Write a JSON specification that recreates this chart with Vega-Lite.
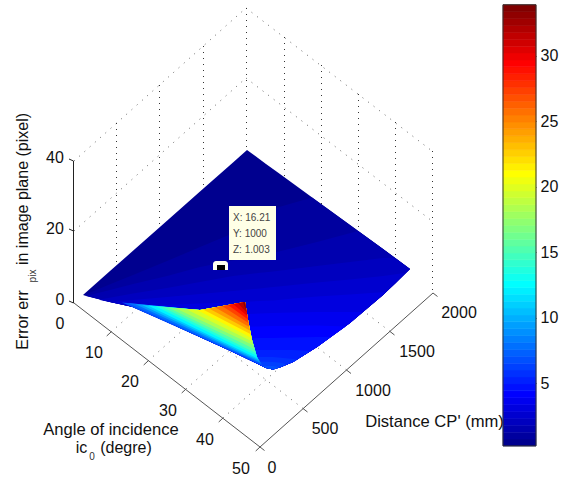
{"$schema":"https://vega.github.io/schema/vega-lite/v6.json","width":571,"height":480,"padding":0,"autosize":"none","background":"white","config":{"view":{"stroke":null},"text":{"font":"Liberation Sans"},"axis":{"labelFont":"Liberation Sans"}},
"datasets":{
"diag":[{"u":74,"v":161,"u2":246,"v2":8},{"u":74,"v":231,"u2":246,"v2":78},{"u":246,"v":8,"u2":432,"v2":151},{"u":246,"v":78,"u2":432,"v2":221},{"u":111,"v":332,"u2":284,"v2":178},{"u":148,"v":361,"u2":321,"v2":207},{"u":186,"v":389,"u2":359,"v2":235},{"u":223,"v":418,"u2":396,"v2":264},{"u":303,"v":408.5,"u2":117,"v2":264.5},{"u":346.5,"v":370,"u2":160.5,"v2":226},{"u":390,"v":331.5,"u2":204,"v2":187.5}],
"vert":[{"u":116.5,"v":123,"u2":116.5,"v2":266},{"u":159.5,"v":85,"u2":159.5,"v2":227},{"u":203.5,"v":46,"u2":203.5,"v2":188},{"u":246.5,"v":8,"u2":246.5,"v2":149},{"u":284.5,"v":37,"u2":284.5,"v2":178},{"u":321.5,"v":65,"u2":321.5,"v2":207},{"u":358.5,"v":94,"u2":358.5,"v2":235},{"u":395.5,"v":122,"u2":395.5,"v2":264},{"u":432.5,"v":151,"u2":432.5,"v2":293}],
"frame":[{"u":74,"v":303,"u2":260,"v2":447},{"u":260,"v":447,"u2":433,"v2":293},{"u":111,"v":332,"u2":106.7,"v2":336},{"u":148,"v":361,"u2":143.7,"v2":365},{"u":186,"v":389,"u2":181.7,"v2":393},{"u":223,"v":418,"u2":218.7,"v2":422},{"u":260,"v":447,"u2":255.7,"v2":451},{"u":260,"v":447,"u2":264.5,"v2":450.5},{"u":303,"v":408.5,"u2":307.5,"v2":412},{"u":346.5,"v":370,"u2":351,"v2":373.5},{"u":390,"v":331.5,"u2":394.5,"v2":335},{"u":433,"v":293,"u2":437.5,"v2":296.5}],
"zaxis":[{"u":73.5,"v":161,"u2":73.5,"v2":303},{"u":73.5,"v":161,"u2":69,"v2":159},{"u":73.5,"v":231,"u2":69,"v2":229},{"u":73.5,"v":303,"u2":69,"v2":301}],
"surface":[
{"z":0.23,"u":83,"v":295,"v2":295},{"z":0.23,"u":110,"v":271.1,"v2":302},{"z":0.23,"u":133,"v":250.8,"v2":307},{"z":0.23,"u":167,"v":220.7,"v2":322},{"z":0.23,"u":200,"v":191.6,"v2":337},{"z":0.23,"u":233,"v":162.4,"v2":352},{"z":0.23,"u":247,"v":150,"v2":358.7},{"z":0.23,"u":260,"v":159.5,"v2":365},{"z":0.23,"u":266,"v":164,"v2":368},{"z":0.23,"u":273,"v":169,"v2":369.5},{"z":0.23,"u":281,"v":174.8,"v2":367},{"z":0.23,"u":293,"v":183.6,"v2":362},{"z":0.23,"u":317,"v":201,"v2":347},{"z":0.23,"u":350,"v":225,"v2":323},{"z":0.23,"u":383,"v":249,"v2":295},{"z":0.23,"u":398,"v":260,"v2":280},{"z":0.23,"u":410,"v":269,"v2":269},
{"z":0.756,"u":84,"v":295,"v2":295},{"z":0.756,"u":110,"v":284.3,"v2":302},{"z":0.756,"u":133,"v":275,"v2":307},{"z":0.756,"u":167,"v":261,"v2":322},{"z":0.756,"u":200,"v":247,"v2":337},{"z":0.756,"u":233,"v":233.3,"v2":352},{"z":0.756,"u":260,"v":217,"v2":365},{"z":0.756,"u":266,"v":213,"v2":368},{"z":0.756,"u":273,"v":209,"v2":369.5},{"z":0.756,"u":281,"v":206.6,"v2":367},{"z":0.756,"u":293,"v":203,"v2":362},{"z":0.756,"u":312,"v":197.5,"v2":350},{"z":0.756,"u":350,"v":225,"v2":323},{"z":0.756,"u":383,"v":249,"v2":295},{"z":0.756,"u":410,"v":269,"v2":269},
{"z":1.282,"u":86,"v":296,"v2":296},{"z":1.282,"u":110,"v":290,"v2":302},{"z":1.282,"u":133,"v":284,"v2":307},{"z":1.282,"u":167,"v":276,"v2":322},{"z":1.282,"u":200,"v":267,"v2":337},{"z":1.282,"u":233,"v":260.5,"v2":352},{"z":1.282,"u":260,"v":255.5,"v2":365},{"z":1.282,"u":266,"v":254.3,"v2":368},{"z":1.282,"u":273,"v":253,"v2":369.5},{"z":1.282,"u":281,"v":251,"v2":367},{"z":1.282,"u":293,"v":248,"v2":362},{"z":1.282,"u":317,"v":242,"v2":347},{"z":1.282,"u":358,"v":231,"v2":316},{"z":1.282,"u":383,"v":249,"v2":295},{"z":1.282,"u":410,"v":269,"v2":269},
{"z":1.809,"u":100,"v":299.5,"v2":300},{"z":1.809,"u":133,"v":293.5,"v2":307},{"z":1.809,"u":167,"v":288,"v2":322},{"z":1.809,"u":200,"v":282,"v2":337},{"z":1.809,"u":233,"v":276,"v2":352},{"z":1.809,"u":260,"v":272.8,"v2":365},{"z":1.809,"u":266,"v":272.2,"v2":368},{"z":1.809,"u":273,"v":271.5,"v2":369.5},{"z":1.809,"u":281,"v":270.5,"v2":367},{"z":1.809,"u":293,"v":269,"v2":362},{"z":1.809,"u":317,"v":266,"v2":347},{"z":1.809,"u":350,"v":262,"v2":323},{"z":1.809,"u":383,"v":258,"v2":295},{"z":1.809,"u":395,"v":258,"v2":284},{"z":1.809,"u":410,"v":269,"v2":269},
{"z":2.335,"u":112,"v":302,"v2":302},{"z":2.335,"u":133,"v":300,"v2":307},{"z":2.335,"u":167,"v":297,"v2":322},{"z":2.335,"u":200,"v":294,"v2":337},{"z":2.335,"u":233,"v":291,"v2":352},{"z":2.335,"u":260,"v":288.5,"v2":365},{"z":2.335,"u":266,"v":287.8,"v2":368},{"z":2.335,"u":273,"v":287,"v2":369.5},{"z":2.335,"u":281,"v":286.2,"v2":367},{"z":2.335,"u":293,"v":285,"v2":362},{"z":2.335,"u":317,"v":282.5,"v2":347},{"z":2.335,"u":350,"v":279.5,"v2":323},{"z":2.335,"u":383,"v":276,"v2":295},{"z":2.335,"u":405,"v":273,"v2":273},
{"z":2.861,"u":130,"v":306,"v2":306},{"z":2.861,"u":167,"v":305,"v2":322},{"z":2.861,"u":200,"v":303.5,"v2":337},{"z":2.861,"u":233,"v":302.5,"v2":352},{"z":2.861,"u":260,"v":301,"v2":365},{"z":2.861,"u":266,"v":300.8,"v2":368},{"z":2.861,"u":273,"v":300.5,"v2":369.5},{"z":2.861,"u":281,"v":299.8,"v2":367},{"z":2.861,"u":293,"v":298.5,"v2":362},{"z":2.861,"u":317,"v":296.5,"v2":347},{"z":2.861,"u":350,"v":294.5,"v2":323},{"z":2.861,"u":385,"v":292,"v2":293},
{"z":3.387,"u":155,"v":316.5,"v2":316.5},{"z":3.387,"u":200,"v":315.5,"v2":337},{"z":3.387,"u":233,"v":314.5,"v2":352},{"z":3.387,"u":260,"v":313.5,"v2":365},{"z":3.387,"u":266,"v":313.3,"v2":368},{"z":3.387,"u":273,"v":313,"v2":369.5},{"z":3.387,"u":281,"v":312.8,"v2":367},{"z":3.387,"u":293,"v":312.4,"v2":362},{"z":3.387,"u":317,"v":312,"v2":347},{"z":3.387,"u":350,"v":312,"v2":323},{"z":3.387,"u":362,"v":312,"v2":312.5},
{"z":3.913,"u":180,"v":328,"v2":328},{"z":3.913,"u":200,"v":328,"v2":337},{"z":3.913,"u":233,"v":327,"v2":352},{"z":3.913,"u":260,"v":326.5,"v2":365},{"z":3.913,"u":266,"v":326.3,"v2":368},{"z":3.913,"u":273,"v":326,"v2":369.5},{"z":3.913,"u":281,"v":325.9,"v2":367},{"z":3.913,"u":293,"v":325.8,"v2":362},{"z":3.913,"u":317,"v":325.5,"v2":347},{"z":3.913,"u":345,"v":326.5,"v2":327},
{"z":4.439,"u":204,"v":339,"v2":339},{"z":4.439,"u":233,"v":339,"v2":352},{"z":4.439,"u":260,"v":338,"v2":365},{"z":4.439,"u":266,"v":338,"v2":368},{"z":4.439,"u":273,"v":338,"v2":369.5},{"z":4.439,"u":281,"v":337.8,"v2":367},{"z":4.439,"u":293,"v":337.5,"v2":362},{"z":4.439,"u":317,"v":337,"v2":347},{"z":4.439,"u":330,"v":337,"v2":337.5},
{"z":4.966,"u":228,"v":350,"v2":350},{"z":4.966,"u":260,"v":350,"v2":365},{"z":4.966,"u":266,"v":350,"v2":368},{"z":4.966,"u":273,"v":350,"v2":369.5},{"z":4.966,"u":281,"v":350,"v2":367},{"z":4.966,"u":293,"v":350,"v2":362},{"z":4.966,"u":310,"v":351,"v2":351.5},
{"z":5.492,"u":245,"v":357,"v2":358},{"z":5.492,"u":260,"v":357,"v2":365},{"z":5.492,"u":266,"v":357,"v2":368},{"z":5.492,"u":273,"v":357,"v2":369.5},{"z":5.492,"u":281,"v":357.8,"v2":367},{"z":5.492,"u":293,"v":359,"v2":362},{"z":5.492,"u":297,"v":360,"v2":360},
{"z":6.018,"u":254,"v":362,"v2":362},{"z":6.018,"u":260,"v":361.5,"v2":365},{"z":6.018,"u":266,"v":361.7,"v2":368},{"z":6.018,"u":273,"v":362,"v2":369.5},{"z":6.018,"u":281,"v":362.8,"v2":367},{"z":6.018,"u":285,"v":364,"v2":365},
{"z":6.544,"u":262,"v":366,"v2":366},{"z":6.544,"u":266,"v":366,"v2":368},{"z":6.544,"u":273,"v":366,"v2":369.5},{"z":6.544,"u":278,"v":367,"v2":368},
{"z":6.6,"u":122,"v":302.5,"v2":302.5},{"z":6.6,"u":200,"v":310,"v2":337.3},{"z":6.6,"u":245,"v":302,"v2":357.6},{"z":6.6,"u":248,"v":320,"v2":359},{"z":6.6,"u":252,"v":340,"v2":360.8},{"z":6.6,"u":257,"v":357,"v2":363},{"z":6.6,"u":262,"v":365,"v2":365.3},{"z":6.6,"u":263.5,"v":366,"v2":366},
{"z":7.5,"u":128,"v":303,"v2":303},{"z":7.5,"u":200,"v":310,"v2":335.9},{"z":7.5,"u":245,"v":302,"v2":356.5},{"z":7.5,"u":248,"v":320,"v2":357.9},{"z":7.5,"u":252,"v":340,"v2":359.7},{"z":7.5,"u":257,"v":357,"v2":362},{"z":7.5,"u":261.4,"v":364,"v2":364},
{"z":9,"u":135,"v":304,"v2":304},{"z":9,"u":200,"v":310,"v2":334.3},{"z":9,"u":245,"v":302,"v2":355.4},{"z":9,"u":248,"v":320,"v2":356.8},{"z":9,"u":252,"v":340,"v2":358.6},{"z":9,"u":257,"v":357,"v2":360.9},{"z":9,"u":260.3,"v":362.5,"v2":362.5},
{"z":10.5,"u":142,"v":305,"v2":305},{"z":10.5,"u":200,"v":310,"v2":332.5},{"z":10.5,"u":245,"v":302,"v2":354},{"z":10.5,"u":248,"v":320,"v2":355.4},{"z":10.5,"u":252,"v":340,"v2":357.2},{"z":10.5,"u":257,"v":357,"v2":359.6},{"z":10.5,"u":259.3,"v":360.7,"v2":360.7},
{"z":12,"u":148,"v":305.5,"v2":305.5},{"z":12,"u":200,"v":310,"v2":330.7},{"z":12,"u":245,"v":302,"v2":352.4},{"z":12,"u":248,"v":320,"v2":353.9},{"z":12,"u":252,"v":340,"v2":355.8},{"z":12,"u":257,"v":357,"v2":358.2},{"z":12,"u":258.2,"v":358.8,"v2":358.8},
{"z":13.5,"u":155,"v":306,"v2":306},{"z":13.5,"u":200,"v":310,"v2":328},{"z":13.5,"u":245,"v":302,"v2":350.1},{"z":13.5,"u":248,"v":320,"v2":351.6},{"z":13.5,"u":252,"v":340,"v2":353.5},{"z":13.5,"u":256.8,"v":356,"v2":356},
{"z":15,"u":162,"v":307,"v2":307},{"z":15,"u":200,"v":310,"v2":325.6},{"z":15,"u":245,"v":302,"v2":347.7},{"z":15,"u":248,"v":320,"v2":349.2},{"z":15,"u":252,"v":340,"v2":351.1},{"z":15,"u":255.8,"v":353,"v2":353},
{"z":16.5,"u":168,"v":307.5,"v2":307.5},{"z":16.5,"u":200,"v":310,"v2":322.9},{"z":16.5,"u":245,"v":302,"v2":344.5},{"z":16.5,"u":248,"v":320,"v2":346},{"z":16.5,"u":252,"v":340,"v2":347.9},{"z":16.5,"u":254.7,"v":349.2,"v2":349.2},
{"z":18,"u":175,"v":308,"v2":308},{"z":18,"u":200,"v":310,"v2":319.9},{"z":18,"u":245,"v":302,"v2":341.3},{"z":18,"u":248,"v":320,"v2":342.7},{"z":18,"u":252,"v":340,"v2":344.6},{"z":18,"u":253.8,"v":345.5,"v2":345.5},
{"z":19.5,"u":186,"v":309,"v2":309},{"z":19.5,"u":200,"v":310,"v2":315.9},{"z":19.5,"u":245,"v":302,"v2":338},{"z":19.5,"u":248,"v":320,"v2":339.5},{"z":19.5,"u":252,"v":340,"v2":341.5},{"z":19.5,"u":252.7,"v":341.8,"v2":341.8},
{"z":21,"u":197,"v":310,"v2":310},{"z":21,"u":200,"v":310,"v2":311.5},{"z":21,"u":245,"v":302,"v2":334.6},{"z":21,"u":248,"v":320,"v2":336.2},{"z":21,"u":251.6,"v":338,"v2":338},
{"z":22.5,"u":203,"v":309.5,"v2":309.5},{"z":22.5,"u":245,"v":302,"v2":331.3},{"z":22.5,"u":248,"v":320,"v2":332.8},{"z":22.5,"u":250.8,"v":334.3,"v2":334.3},
{"z":24,"u":209,"v":308.4,"v2":308.4},{"z":24,"u":245,"v":302,"v2":327.8},{"z":24,"u":248,"v":320,"v2":329.4},{"z":24,"u":250,"v":330.5,"v2":330.5},
{"z":25.5,"u":215,"v":307.3,"v2":307.3},{"z":25.5,"u":245,"v":302,"v2":324.6},{"z":25.5,"u":248,"v":320,"v2":326.3},{"z":25.5,"u":249.2,"v":327,"v2":327},
{"z":27,"u":222,"v":306,"v2":306},{"z":27,"u":245,"v":302,"v2":320.8},{"z":27,"u":248,"v":320,"v2":322.7},{"z":27,"u":248.5,"v":323,"v2":323},
{"z":28.5,"u":228,"v":305,"v2":305},{"z":28.5,"u":245,"v":302,"v2":317.2},{"z":28.5,"u":247.9,"v":319.3,"v2":319.3},
{"z":30,"u":233,"v":304,"v2":304},{"z":30,"u":245,"v":302,"v2":314},{"z":30,"u":247.4,"v":316,"v2":316},
{"z":31.5,"u":238,"v":303.2,"v2":303.2},{"z":31.5,"u":245,"v":302,"v2":310.8},{"z":31.5,"u":247,"v":313,"v2":313},
{"z":33,"u":243,"v":302.4,"v2":302.4},{"z":33,"u":245,"v":302,"v2":307.5},{"z":33,"u":246,"v":310,"v2":310}
],
"bar":[{"z":0.23,"z2":0.756},{"z":0.756,"z2":1.282},{"z":1.282,"z2":1.809},{"z":1.809,"z2":2.335},{"z":2.335,"z2":2.861},{"z":2.861,"z2":3.387},{"z":3.387,"z2":3.913},{"z":3.913,"z2":4.439},{"z":4.439,"z2":4.966},{"z":4.966,"z2":5.492},{"z":5.492,"z2":6.018},{"z":6.018,"z2":6.544},{"z":6.544,"z2":7.07},{"z":7.07,"z2":7.596},{"z":7.596,"z2":8.123},{"z":8.123,"z2":8.649},{"z":8.649,"z2":9.175},{"z":9.175,"z2":9.701},{"z":9.701,"z2":10.227},{"z":10.227,"z2":10.753},{"z":10.753,"z2":11.28},{"z":11.28,"z2":11.806},{"z":11.806,"z2":12.332},{"z":12.332,"z2":12.858},{"z":12.858,"z2":13.384},{"z":13.384,"z2":13.91},{"z":13.91,"z2":14.437},{"z":14.437,"z2":14.963},{"z":14.963,"z2":15.489},{"z":15.489,"z2":16.015},{"z":16.015,"z2":16.541},{"z":16.541,"z2":17.067},{"z":17.067,"z2":17.594},{"z":17.594,"z2":18.12},{"z":18.12,"z2":18.646},{"z":18.646,"z2":19.172},{"z":19.172,"z2":19.698},{"z":19.698,"z2":20.224},{"z":20.224,"z2":20.751},{"z":20.751,"z2":21.277},{"z":21.277,"z2":21.803},{"z":21.803,"z2":22.329},{"z":22.329,"z2":22.855},{"z":22.855,"z2":23.381},{"z":23.381,"z2":23.908},{"z":23.908,"z2":24.434},{"z":24.434,"z2":24.96},{"z":24.96,"z2":25.486},{"z":25.486,"z2":26.012},{"z":26.012,"z2":26.538},{"z":26.538,"z2":27.065},{"z":27.065,"z2":27.591},{"z":27.591,"z2":28.117},{"z":28.117,"z2":28.643},{"z":28.643,"z2":29.169},{"z":29.169,"z2":29.695},{"z":29.695,"z2":30.222},{"z":30.222,"z2":30.748},{"z":30.748,"z2":31.274},{"z":31.274,"z2":31.8},{"z":31.8,"z2":32.326},{"z":32.326,"z2":32.852},{"z":32.852,"z2":33.379},{"z":33.379,"z2":33.905}]
},
"layer":[
{"layer":[
{"data":{"name":"diag"},"mark":{"type":"rule","stroke":"#666666","strokeWidth":1,"strokeDash":[1,6]},"encoding":{"x":{"field":"u","type":"quantitative","scale":{"domain":[0,571],"nice":false,"zero":false},"axis":null},"y":{"field":"v","type":"quantitative","scale":{"domain":[480,0],"nice":false,"zero":false},"axis":null},"x2":{"field":"u2"},"y2":{"field":"v2"}}},
{"data":{"name":"vert"},"mark":{"type":"rule","stroke":"#333333","strokeWidth":1,"strokeDash":[1,5]},"encoding":{"x":{"field":"u","type":"quantitative"},"y":{"field":"v","type":"quantitative"},"x2":{"field":"u2"},"y2":{"field":"v2"}}},
{"data":{"name":"frame"},"mark":{"type":"rule","stroke":"#555555","strokeWidth":1},"encoding":{"x":{"field":"u","type":"quantitative"},"y":{"field":"v","type":"quantitative"},"x2":{"field":"u2"},"y2":{"field":"v2"}}},
{"data":{"name":"zaxis"},"mark":{"type":"rule","stroke":"#222222","strokeWidth":1},"encoding":{"x":{"field":"u","type":"quantitative"},"y":{"field":"v","type":"quantitative"},"x2":{"field":"u2"},"y2":{"field":"v2"}}},
{"data":{"name":"surface"},"mark":{"type":"area","orient":"vertical","interpolate":"linear","opacity":1},"encoding":{"x":{"field":"u","type":"quantitative"},"y":{"field":"v","type":"quantitative"},"y2":{"field":"v2"},"detail":{"field":"z"},"color":{"field":"z","type":"quantitative","scale":{"domain":[0.23,3.91,12.33,20.75,29.17,33.38],"range":["#00008f","#0000ff","#00ffff","#ffff00","#ff0000","#800000"],"interpolate":"rgb"},"legend":null}}},
{"data":{"values":[{"u":213,"u2":228,"v":261,"v2":270}]},"mark":{"type":"rect","fill":"#fffff0","cornerRadiusTopLeft":3,"cornerRadiusTopRight":3},"encoding":{"x":{"field":"u","type":"quantitative"},"x2":{"field":"u2"},"y":{"field":"v","type":"quantitative"},"y2":{"field":"v2"}}},
{"data":{"values":[{"u":217,"u2":225,"v":265,"v2":270}]},"mark":{"type":"rect","fill":"#000000"},"encoding":{"x":{"field":"u","type":"quantitative"},"x2":{"field":"u2"},"y":{"field":"v","type":"quantitative"},"y2":{"field":"v2"}}},
{"data":{"values":[{"u":229,"u2":276,"v":206,"v2":260}]},"mark":{"type":"rect","fill":"#ffffe6"},"encoding":{"x":{"field":"u","type":"quantitative"},"x2":{"field":"u2"},"y":{"field":"v","type":"quantitative"},"y2":{"field":"v2"}}},
{"data":{"values":[{"u":233,"v":218,"t":"X: 16.21"},{"u":233,"v":234,"t":"Y: 1000"},{"u":233,"v":250,"t":"Z: 1.003"}]},"mark":{"type":"text","align":"left","baseline":"middle","fontSize":10,"fill":"#444444"},"encoding":{"x":{"field":"u","type":"quantitative"},"y":{"field":"v","type":"quantitative"},"text":{"field":"t"}}},
{"data":{"values":[{"u":55,"v":158,"t":"40"},{"u":55,"v":229,"t":"20"},{"u":60,"v":300,"t":"0"},{"u":60,"v":324,"t":"0"},{"u":94,"v":353,"t":"10"},{"u":130,"v":382,"t":"20"},{"u":168,"v":411,"t":"30"},{"u":205,"v":440,"t":"40"},{"u":241,"v":469,"t":"50"},{"u":272,"v":468,"t":"0"},{"u":325,"v":429,"t":"500"},{"u":373,"v":391,"t":"1000"},{"u":417,"v":352,"t":"1500"},{"u":459,"v":313,"t":"2000"},{"u":81.5,"v":448,"t":"ic"},{"u":126,"v":448,"t":"(degre)"}]},"mark":{"type":"text","align":"center","baseline":"middle","fontSize":16,"fill":"#111111"},"encoding":{"x":{"field":"u","type":"quantitative"},"y":{"field":"v","type":"quantitative"},"text":{"field":"t"}}},
{"data":{"values":[{"u":111,"v":430,"t":"Angle of incidence"},{"u":434.5,"v":422,"t":"Distance CP' (mm)"}]},"mark":{"type":"text","align":"center","baseline":"middle","fontSize":16.6,"fill":"#111111"},"encoding":{"x":{"field":"u","type":"quantitative"},"y":{"field":"v","type":"quantitative"},"text":{"field":"t"}}},
{"data":{"values":[{"u":92,"v":457,"t":"0"}]},"mark":{"type":"text","align":"center","baseline":"middle","fontSize":10,"fill":"#333333"},"encoding":{"x":{"field":"u","type":"quantitative"},"y":{"field":"v","type":"quantitative"},"text":{"field":"t"}}},
{"data":{"values":[{"u":23,"v":320,"t":"Error err"},{"u":23,"v":189,"t":"in image plane (pixel)"}]},"mark":{"type":"text","align":"center","baseline":"middle","fontSize":16,"angle":270,"fill":"#111111"},"encoding":{"x":{"field":"u","type":"quantitative"},"y":{"field":"v","type":"quantitative"},"text":{"field":"t"}}},
{"data":{"values":[{"u":33,"v":276,"t":"pix"}]},"mark":{"type":"text","align":"center","baseline":"middle","fontSize":10,"angle":270,"fill":"#333333"},"encoding":{"x":{"field":"u","type":"quantitative"},"y":{"field":"v","type":"quantitative"},"text":{"field":"t"}}}
]},
{"data":{"name":"bar"},"mark":{"type":"rect","strokeWidth":0.6},"encoding":{"x":{"datum":503,"type":"quantitative"},"x2":{"datum":536},"y":{"field":"z","type":"quantitative","scale":{"domain":[-2.37,34.27],"nice":false,"zero":false},"axis":{"orient":"right","offset":-35,"values":[5,10,15,20,25,30],"domain":false,"grid":false,"title":null,"tickSize":-4,"tickColor":"#222222","labelFontSize":16,"labelColor":"#111111","labelPadding":8,"labelFont":"Liberation Sans","labelBaseline":"middle"}},"y2":{"field":"z2"},"color":{"field":"z","type":"quantitative","legend":null},"stroke":{"field":"z","type":"quantitative","legend":null,"scale":{"domain":[0.23,3.91,12.33,20.75,29.17,33.38],"range":["#00008f","#0000ff","#00ffff","#ffff00","#ff0000","#800000"],"interpolate":"rgb"}}}},
{"data":{"values":[{"z":0.23,"z2":33.905}]},"mark":{"type":"rect","fill":null,"stroke":"#333333","strokeWidth":1},"encoding":{"x":{"datum":503,"type":"quantitative"},"x2":{"datum":536},"y":{"field":"z","type":"quantitative","scale":{"domain":[-2.37,34.27],"nice":false,"zero":false},"axis":{"orient":"left","offset":-503,"values":[5,10,15,20,25,30],"domain":false,"grid":false,"title":null,"tickSize":-4,"tickColor":"#222222","labels":false}},"y2":{"field":"z2"}}}
],
"resolve":{"scale":{"y":"independent"}}
}
